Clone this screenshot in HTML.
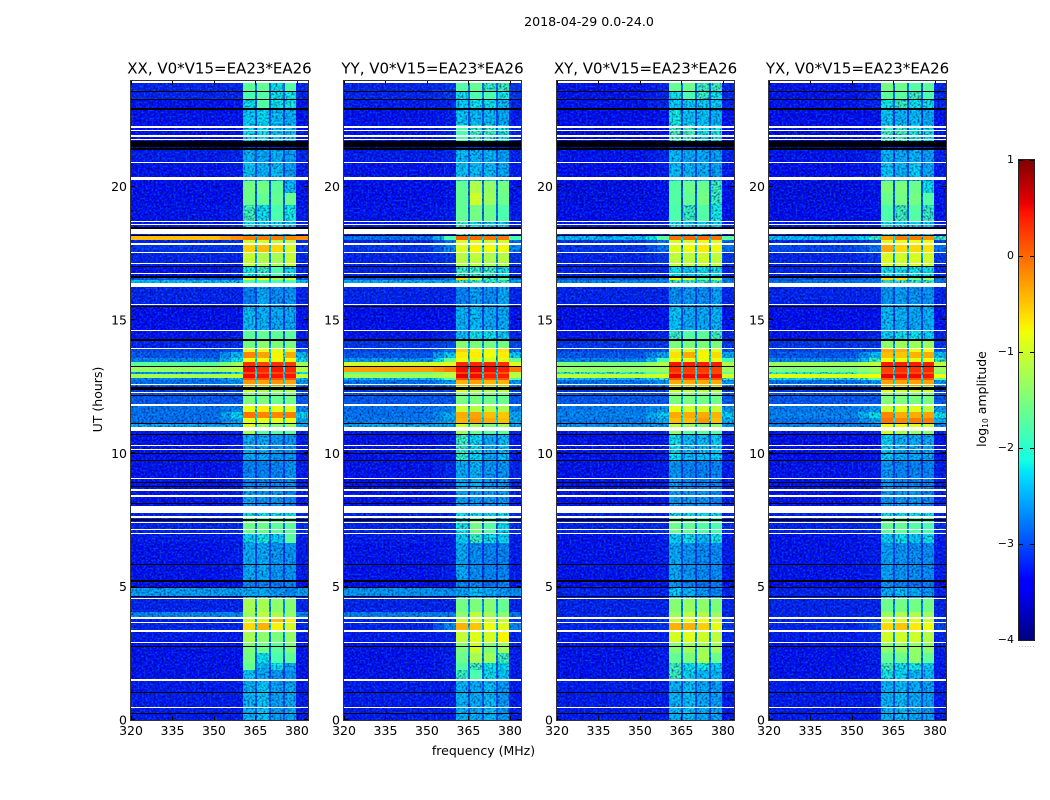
<!DOCTYPE html>
<html>
<head>
<meta charset="utf-8">
<title>2018-04-29 0.0-24.0</title>
<style>
html,body{margin:0;padding:0;background:#fff;}
svg{display:block;}
text{font-family:"DejaVu Sans","Liberation Sans",sans-serif;fill:#000;}
</style>
</head>
<body>
<svg id="figure" xmlns="http://www.w3.org/2000/svg" width="1050" height="800" viewBox="0 0 1050 800">
  <defs id="svg-defs">
    <filter id="grain-dark" x="0" y="0" width="1" height="1" color-interpolation-filters="sRGB">
      <feTurbulence type="fractalNoise" baseFrequency="0.5" numOctaves="1" seed="4"/>
      <feColorMatrix type="matrix" values="0 0 0 0 0  0 0 0 0 0  0 0 0 0 0.3  3.2 0 0 0 -1.35"/>
    </filter>
    <filter id="grain-light" x="0" y="0" width="1" height="1" color-interpolation-filters="sRGB">
      <feTurbulence type="fractalNoise" baseFrequency="0.5" numOctaves="1" seed="11"/>
      <feColorMatrix type="matrix" values="0 0 0 0 0  0 0 0 0 0.8  0 0 0 0 1  3.2 0 0 0 -1.35"/>
    </filter>
    <linearGradient id="colorbar-gradient" x1="0" y1="1" x2="0" y2="0"></linearGradient>
  </defs>
  <rect x="0" y="0" width="1050" height="800" fill="#fff"/>
  <text x="589" y="26" font-size="12.6" text-anchor="middle">2018-04-29 0.0-24.0</text>
  <text x="483.5" y="755" font-size="12.5" text-anchor="middle">frequency (MHz)</text>
  <text transform="translate(102,399.5) rotate(-90)" font-size="12.5" text-anchor="middle">UT (hours)</text>
  <text transform="translate(986,399) rotate(-90)" font-size="12.5" text-anchor="middle">log<tspan font-size="7.5" dy="2">10</tspan><tspan dy="-2"> amplitude</tspan></text>
  <g id="panels"></g>
  <g id="colorbar"></g>
</svg>
<script>
// ---- data (log10 amplitude) ----
const xTicks = [320, 335, 350, 365, 380];
const yTicks = [0, 5, 10, 15, 20];
const colorbarTicks = [1, 0, -1, -2, -3, -4];
const polarizations = ['XX', 'YY', 'XY', 'YX'];
const baselineLabel = 'V0*V15=EA23*EA26';
const spwStart = [360.5, 365.7, 370.5, 375.6];
const spwEnd = [365, 369.8, 375, 379.8];
const bandEdges = [24, 23.55, 23.25, 22.87, 22.31, 21.71, 21.37, 20.92, 20.36, 20.21, 19.76, 19.31, 18.71, 18.15, 18.00, 17.85, 17.55, 17.02, 16.65, 16.50, 16.27, 15.52, 14.62, 14.25, 13.95, 13.80, 13.57, 13.42, 13.27, 13.05, 12.99, 12.84, 12.75, 12.52, 12.30, 11.81, 11.55, 11.32, 11.14, 10.87, 10.72, 9.75, 8.62, 8.02, 7.61, 7.01, 6.64, 5.21, 4.95, 4.65, 4.57, 4.05, 3.86, 3.67, 3.37, 2.89, 2.51, 2.14, 1.87, 1.50, 0];
const whiteFlags = [[23.95,23.87],[22.27,22.20],[22.14,22.10],[21.92,21.87],[21.80,21.75],[20.93,20.88],[20.36,20.25],[18.72,18.67],[18.61,18.56],[18.42,18.22],[17.88,17.82],[17.56,17.51],[17.14,17.09],[16.77,16.72],[16.39,16.25],[15.61,15.56],[14.63,14.58],[13.96,13.91],[12.61,12.55],[12.50,12.47],[12.31,12.26],[11.83,11.77],[10.99,10.85],[10.32,10.27],[10.17,10.12],[9.08,9.04],[8.66,8.57],[8.44,8.38],[8.02,7.77],[7.65,7.59],[7.42,7.39],[7.16,7.11],[7.01,6.96],[4.59,4.55],[3.88,3.80],[3.68,3.64],[3.37,3.30],[2.93,2.89],[1.54,1.46],[0.50,0.45]];
const blackFlags = [[23.57,23.53],[23.29,23.25],[22.96,22.88],[21.71,21.48],[21.44,21.37],[18.49,18.42],[18.19,18.15],[17.02,16.99],[16.64,16.59],[15.52,15.49],[14.29,14.21],[13.27,13.23],[12.47,12.39],[12.17,12.13],[11.14,11.11],[10.73,10.69],[10.02,9.97],[9.76,9.71],[8.92,8.89],[8.76,8.72],[8.14,8.10],[7.52,7.48],[5.86,5.81],[5.24,5.19],[4.99,4.95],[4.66,4.61],[2.78,2.74],[1.06,1.01],[0.27,0.23]];
// each row: [background, shoulder, spw1, spw2, spw3, spw4]
const levelsXX = [
[-3.0,-3.0,-1.7,-1.65,-2.0,-1.75],[-3.0,-3.0,-1.8,-1.75,-2.0,-1.95],[-3.1,-3.1,-2.0,-1.75,-2.0,-1.95],[-3.1,-3.1,-2.1,-2.05,-2.2,-2.25],[-3.2,-3.1,-2.05,-2.0,-2.15,-2.15],
[-3.8,-3.8,-2.9,-2.9,-3.0,-3.0],[-3.05,-3.0,-2.25,-2.3,-2.25,-2.35],[-3.1,-3.05,-2.15,-2.25,-2.2,-2.35],[-3.2,-3.1,-2.1,-2.2,-2.2,-2.3],[-3.2,-3.1,-1.55,-1.55,-1.7,-2.2],
[-3.2,-3.1,-1.6,-1.65,-1.65,-1.6],[-3.1,-3.05,-1.85,-2.0,-1.8,-1.95],[-3.05,-3.0,-2.0,-2.1,-2.05,-2.1],[-0.45,-0.2,-0.1,-0.1,-0.1,-0.15],[-3.0,-2.9,-1.0,-1.0,-1.1,-1.1],
[-2.9,-2.9,-0.55,-0.45,-0.6,-0.95],[-3.0,-3.0,-1.05,-1.2,-1.25,-1.05],[-3.1,-3.0,-1.95,-1.9,-1.8,-2.0],[-2.7,-2.7,-0.9,-0.8,-1.2,-1.0],[-2.2,-2.2,-1.8,-1.8,-1.8,-1.8],
[-3.0,-3.0,-2.55,-2.3,-2.45,-2.4],[-3.15,-3.1,-2.2,-2.25,-2.3,-2.3],[-3.1,-3.05,-1.7,-1.65,-1.7,-1.7],[-3.0,-2.95,-1.55,-1.4,-1.5,-1.5],[-2.8,-2.7,-0.85,-0.8,-0.85,-0.85],
[-2.7,-2.2,-0.15,-0.3,-0.75,-0.35],[-2.5,-2.0,-0.8,-0.8,-0.8,-0.8],[-1.7,-1.3,0.3,0.2,0.3,0.25],[-1.35,-1.15,0.5,0.35,0.45,0.35],[-2.4,-2.0,0.15,0.15,0.15,0.15],
[-1.25,-1.05,0.5,0.45,0.45,0.45],[-2.5,-2.2,0.1,0.1,0.1,0.1],[-2.6,-2.4,-0.25,-0.3,-0.25,-0.3],[-2.9,-2.8,-1.0,-1.2,-1.2,-1.2],[-2.7,-2.7,-1.5,-1.5,-1.6,-1.55],
[-2.6,-2.5,-0.85,-0.7,-0.85,-0.9],[-2.6,-2.05,-0.05,-0.15,-0.15,-0.1],[-2.6,-2.3,-0.85,-0.85,-0.85,-0.85],[-2.3,-2.3,-0.9,-1.3,-1.45,-1.3],[-3.05,-3.0,-1.25,-1.7,-1.7,-1.7],
[-3.1,-3.05,-2.3,-2.3,-2.4,-2.4],[-3.1,-3.05,-2.5,-2.5,-2.5,-2.4],[-3.1,-3.05,-2.35,-2.4,-2.4,-2.5],[-3.0,-3.0,-2.0,-2.0,-2.0,-2.0],[-3.0,-2.95,-1.6,-1.6,-1.7,-1.7],
[-3.05,-3.05,-2.05,-1.95,-2.1,-1.7],[-3.1,-3.05,-2.3,-2.3,-2.4,-2.4],[-3.2,-3.15,-2.5,-2.5,-2.6,-2.5],[-2.35,-2.35,-2.3,-2.3,-2.4,-2.5],[-3.0,-3.0,-2.1,-2.1,-2.2,-2.2],
[-3.0,-3.0,-1.25,-1.25,-1.4,-1.45],[-2.5,-2.5,-1.3,-1.1,-1.2,-1.35],[-3.05,-3.0,-1.0,-0.9,-0.45,-0.75],[-3.0,-3.0,-0.6,-0.4,-0.75,-0.95],[-3.05,-3.05,-1.25,-1.4,-1.5,-1.35],
[-3.1,-3.1,-1.5,-1.6,-1.7,-1.5],[-3.1,-3.1,-1.55,-2.0,-1.8,-1.7],[-3.1,-3.1,-1.65,-2.2,-2.0,-2.3],[-3.1,-3.1,-2.15,-2.3,-2.4,-2.4],[-3.05,-3.05,-2.25,-2.15,-2.35,-2.3]
];
const levelsYY = [
[-3.0,-2.9,-1.75,-1.65,-1.9,-1.85],[-3.0,-2.9,-2.0,-1.8,-1.8,-1.95],[-3.05,-3.0,-2.1,-2.0,-2.0,-2.2],[-3.1,-3.05,-2.15,-2.2,-2.2,-2.3],[-3.1,-3.0,-1.8,-1.9,-1.9,-1.95],
[-3.8,-3.8,-2.9,-2.9,-3.0,-3.0],[-3.05,-3.0,-2.2,-2.25,-2.25,-2.35],[-3.1,-3.05,-2.15,-2.2,-2.2,-2.3],[-3.2,-3.1,-2.0,-2.1,-2.1,-2.2],[-3.2,-3.1,-1.65,-1.2,-1.35,-1.55],
[-3.2,-3.1,-1.65,-1.0,-1.3,-1.6],[-3.1,-3.05,-1.65,-1.55,-1.6,-1.8],[-3.05,-3.0,-1.9,-2.0,-2.05,-2.1],[-2.6,-1.8,0.05,0.0,-0.05,-0.05],[-3.0,-2.6,-0.9,-0.9,-1.0,-0.95],
[-2.9,-2.5,-0.9,-0.75,-0.8,-0.8],[-3.0,-2.9,-1.15,-1.1,-1.2,-1.15],[-3.0,-3.0,-1.9,-1.9,-1.9,-1.95],[-2.7,-2.6,-0.55,-1.1,-1.9,-1.7],[-2.3,-2.3,-1.9,-1.9,-1.9,-1.9],
[-3.0,-3.0,-2.5,-2.35,-2.45,-2.3],[-3.15,-3.1,-2.25,-2.2,-2.3,-2.3],[-3.1,-3.0,-2.2,-2.0,-2.0,-2.1],[-2.9,-2.8,-1.45,-1.5,-1.55,-1.55],[-2.8,-2.6,-0.55,-0.75,-0.8,-0.65],
[-2.7,-2.1,-0.7,-0.7,-0.8,-0.7],[-2.4,-1.6,-0.8,-0.9,-1.0,-0.9],[-1.0,-0.9,0.35,0.35,0.35,0.3],[-0.3,-0.1,0.5,0.55,0.5,0.4],[-1.6,-1.2,0.2,0.15,0.15,0.1],
[-1.3,-1.1,0.55,0.5,0.4,0.4],[-2.2,-1.8,0.15,0.15,0.1,0.1],[-2.6,-2.4,-0.4,-0.3,-0.4,-0.4],[-2.9,-2.8,-0.95,-1.1,-1.1,-1.1],[-2.7,-2.7,-1.5,-1.5,-1.55,-1.6],
[-2.6,-2.5,-1.0,-1.15,-1.15,-1.2],[-2.6,-2.3,-0.35,-0.3,-0.45,-0.5],[-2.55,-2.3,-0.4,-0.25,-0.35,-0.45],[-2.3,-2.3,-1.0,-1.3,-1.5,-1.3],[-3.05,-3.0,-1.3,-1.6,-1.7,-1.7],
[-3.1,-3.05,-1.9,-2.05,-2.3,-2.2],[-3.1,-3.0,-2.3,-2.25,-2.4,-2.4],[-3.1,-3.05,-2.35,-2.4,-2.4,-2.4],[-3.0,-3.0,-2.0,-2.0,-2.0,-2.0],[-3.0,-2.95,-1.95,-1.55,-1.75,-2.05],
[-3.05,-3.05,-2.1,-1.9,-2.0,-2.05],[-3.1,-3.05,-2.3,-2.45,-2.5,-2.5],[-3.2,-3.15,-2.5,-2.5,-2.6,-2.5],[-2.4,-2.45,-2.35,-2.2,-2.3,-2.4],[-3.0,-3.0,-2.0,-2.1,-2.2,-2.2],
[-3.0,-3.0,-1.55,-1.5,-1.45,-1.65],[-2.55,-2.55,-1.4,-1.1,-1.25,-1.4],[-3.0,-2.9,-1.0,-0.9,-0.95,-1.05],[-3.0,-2.5,-0.4,-0.5,-0.8,-0.9],[-3.05,-3.0,-1.05,-0.9,-0.95,-0.75],
[-3.1,-3.05,-1.5,-1.0,-1.45,-1.3],[-3.1,-3.05,-1.6,-1.25,-1.3,-1.85],[-3.1,-3.05,-1.75,-1.85,-2.0,-2.05],[-3.1,-3.05,-1.9,-1.8,-2.0,-2.15],[-3.05,-3.05,-2.25,-2.3,-2.2,-2.4]
];
const levelsXY = [
[-3.1,-3.0,-1.65,-1.6,-1.85,-1.85],[-3.1,-3.0,-2.0,-1.8,-1.9,-2.0],[-3.1,-3.0,-2.1,-2.1,-2.1,-2.1],[-3.2,-3.1,-1.95,-2.15,-2.15,-2.25],[-3.3,-3.2,-1.85,-1.85,-2.0,-1.95],
[-3.8,-3.8,-2.9,-2.9,-3.0,-3.0],[-3.1,-3.0,-2.2,-2.3,-2.3,-2.35],[-3.15,-3.05,-2.2,-2.25,-2.25,-2.35],[-3.2,-3.1,-2.1,-2.2,-2.2,-2.3],[-3.25,-3.1,-1.75,-1.6,-1.6,-1.85],
[-3.25,-3.1,-1.75,-1.65,-1.55,-1.9],[-3.2,-3.1,-1.8,-1.9,-1.75,-1.95],[-3.05,-3.0,-2.0,-2.1,-2.05,-2.1],[-2.2,-1.7,-0.05,0.0,0.0,-0.05],[-2.9,-2.6,-0.95,-0.95,-0.8,-0.9],
[-2.9,-2.6,-0.9,-0.8,-0.7,-0.8],[-3.0,-2.9,-1.1,-1.1,-1.0,-1.1],[-3.0,-3.0,-2.0,-2.1,-2.0,-2.0],[-2.7,-2.6,-0.8,-1.0,-1.7,-1.3],[-2.5,-2.5,-1.9,-1.9,-1.9,-1.9],
[-3.0,-3.0,-2.45,-2.4,-2.45,-2.35],[-3.15,-3.1,-2.15,-2.3,-2.3,-2.25],[-3.1,-3.0,-1.9,-1.75,-1.7,-1.85],[-2.9,-2.9,-1.5,-1.5,-1.5,-1.5],[-2.8,-2.7,-0.9,-0.9,-0.9,-0.9],
[-2.7,-2.3,-0.65,-0.35,-0.75,-0.6],[-2.5,-1.8,-0.8,-0.9,-0.85,-0.85],[-1.5,-1.2,0.45,0.4,0.4,0.4],[-1.4,-1.3,0.3,0.25,0.25,0.2],[-1.9,-1.6,0.15,0.15,0.15,0.15],
[-1.1,-0.95,0.55,0.5,0.5,0.5],[-2.2,-1.9,0.1,0.1,0.1,0.1],[-2.6,-2.4,-0.35,-0.35,-0.35,-0.35],[-2.9,-2.8,-1.0,-1.1,-1.1,-1.1],[-2.7,-2.7,-1.5,-1.5,-1.55,-1.55],
[-2.55,-2.4,-0.85,-1.0,-1.0,-1.05],[-2.5,-2.1,-0.35,-0.35,-0.35,-0.4],[-2.55,-2.3,-0.45,-0.45,-0.25,-0.45],[-2.4,-2.4,-1.1,-1.3,-1.5,-1.4],[-3.05,-3.0,-1.4,-1.7,-1.7,-1.7],
[-3.1,-3.05,-2.0,-2.2,-2.2,-2.1],[-3.1,-3.05,-2.4,-2.5,-2.5,-2.5],[-3.1,-3.05,-2.35,-2.4,-2.4,-2.5],[-3.0,-3.0,-2.0,-2.0,-2.0,-2.0],[-3.0,-2.95,-1.6,-1.65,-1.75,-1.8],
[-3.1,-3.05,-2.1,-2.0,-2.2,-1.95],[-3.1,-3.05,-2.3,-2.4,-2.45,-2.45],[-3.2,-3.15,-2.4,-2.5,-2.6,-2.55],[-3.0,-3.0,-2.1,-2.25,-2.4,-2.5],[-3.0,-3.0,-2.0,-2.1,-2.2,-2.2],
[-3.0,-3.0,-1.45,-1.35,-1.4,-1.5],[-3.0,-3.0,-1.3,-1.1,-1.15,-1.3],[-3.0,-2.9,-1.0,-0.85,-0.8,-0.95],[-3.0,-2.9,-0.4,-0.4,-0.55,-0.85],[-3.05,-3.0,-0.95,-0.9,-1.0,-1.1],
[-3.1,-3.05,-1.45,-1.3,-1.3,-1.3],[-3.1,-3.05,-1.65,-1.5,-1.25,-1.6],[-3.1,-3.05,-1.85,-2.0,-1.95,-2.1],[-3.1,-3.05,-1.85,-2.05,-2.2,-2.2],[-3.05,-3.05,-2.25,-2.2,-2.3,-2.35]
];
const levelsYX = [
[-3.1,-3.0,-1.55,-1.6,-1.75,-1.7],[-3.1,-3.0,-1.7,-1.7,-1.85,-1.8],[-3.1,-3.0,-1.95,-1.9,-2.0,-2.0],[-3.2,-3.1,-2.15,-2.25,-2.2,-2.3],[-3.3,-3.2,-1.9,-1.9,-1.95,-2.0],
[-3.8,-3.8,-2.9,-2.9,-3.0,-3.0],[-3.1,-3.0,-2.25,-2.3,-2.25,-2.35],[-3.15,-3.05,-2.15,-2.25,-2.1,-2.3],[-3.2,-3.1,-2.1,-2.2,-2.2,-2.3],[-3.25,-3.1,-1.5,-1.5,-1.6,-2.0],
[-3.25,-3.1,-1.6,-1.55,-1.55,-1.75],[-3.2,-3.1,-1.8,-1.85,-1.75,-1.9],[-3.05,-3.0,-2.0,-2.1,-2.05,-2.1],[-2.2,-1.9,-0.3,-0.1,-0.1,-0.2],[-3.0,-2.8,-0.9,-0.8,-0.8,-0.8],
[-2.8,-2.6,-0.35,-0.6,-0.6,-0.65],[-3.0,-2.9,-0.95,-1.0,-0.95,-1.0],[-3.0,-3.0,-2.0,-2.0,-2.0,-2.0],[-2.7,-2.6,-0.6,-0.6,-1.6,-1.3],[-2.6,-2.6,-1.9,-1.9,-1.9,-1.9],
[-3.0,-3.0,-2.4,-2.35,-2.4,-2.4],[-3.15,-3.1,-2.2,-2.25,-2.3,-2.25],[-3.1,-3.0,-2.1,-2.0,-2.0,-2.1],[-2.9,-2.9,-1.4,-1.3,-1.3,-1.3],[-2.8,-2.7,-0.35,-0.4,-0.85,-0.8],
[-2.7,-2.2,-0.45,-0.5,-0.4,-0.35],[-2.5,-1.9,-0.8,-0.85,-0.85,-0.8],[-1.3,-1.1,0.4,0.4,0.4,0.4],[-1.5,-1.3,0.2,0.3,0.3,0.35],[-1.9,-1.5,0.15,0.15,0.15,0.1],
[-0.9,-0.8,0.55,0.5,0.5,0.45],[-2.0,-1.7,0.1,0.1,0.1,0.1],[-2.6,-2.4,-0.3,-0.3,-0.3,-0.3],[-2.9,-2.8,-0.85,-1.0,-1.0,-1.0],[-2.7,-2.7,-1.45,-1.45,-1.5,-1.5],
[-2.55,-2.4,-1.0,-0.9,-0.9,-1.1],[-2.5,-2.0,-0.15,-0.35,-0.35,-0.3],[-2.6,-2.3,-0.05,-0.15,-0.1,-0.1],[-2.5,-2.5,-0.8,-0.8,-0.9,-1.0],[-3.05,-3.0,-1.0,-1.2,-1.3,-1.4],
[-3.15,-3.1,-2.1,-2.25,-2.3,-2.3],[-3.1,-3.05,-2.4,-2.5,-2.5,-2.5],[-3.1,-3.05,-2.4,-2.4,-2.4,-2.5],[-3.0,-3.0,-2.0,-2.0,-2.0,-2.0],[-3.0,-2.95,-1.65,-1.65,-1.75,-1.8],
[-3.1,-3.05,-2.1,-2.0,-2.15,-2.0],[-3.1,-3.05,-2.35,-2.4,-2.45,-2.45],[-3.2,-3.15,-2.4,-2.5,-2.6,-2.55],[-3.0,-3.0,-2.3,-2.2,-2.3,-2.4],[-3.0,-3.0,-2.0,-2.1,-2.2,-2.2],
[-3.0,-3.0,-1.6,-1.55,-1.55,-1.55],[-3.0,-3.0,-1.3,-1.2,-1.2,-1.3],[-3.0,-2.9,-1.0,-0.9,-0.9,-1.0],[-3.0,-2.8,-0.6,-0.5,-0.7,-0.8],[-3.05,-3.0,-1.0,-1.0,-1.0,-1.15],
[-3.1,-3.05,-1.4,-1.35,-1.35,-1.4],[-3.1,-3.05,-1.65,-1.6,-1.4,-1.65],[-3.1,-3.05,-1.85,-2.0,-1.95,-2.1],[-3.1,-3.05,-1.95,-2.05,-2.2,-2.2],[-3.05,-3.05,-2.25,-2.2,-2.3,-2.35]
];
const levelTables = [levelsXX, levelsYY, levelsXY, levelsYX];

// ---- layout ----
const axesLefts = [131, 344, 557, 769];
const axesWidth = 177;
const axesTop = 81;
const axesBottom = 720;
const svgNS = 'http://www.w3.org/2000/svg';
const freqMin = 320, freqMax = 384, hourScale = 26.67;
const cbLeft = 1019, cbWidth = 15, cbTop = 160, cbBottom = 640;

function xScale(mhz, left) { return left + (mhz - freqMin) / (freqMax - freqMin) * axesWidth; }
function yScale(hour) { return Math.max(axesTop, axesBottom - hour * hourScale); }
function cbScale(v) { return cbBottom - (v + 4) / 5 * (cbBottom - cbTop); }
function lerpStops(stops, t) {
  for (let i = 1; i < stops.length; i++) {
    if (t <= stops[i][0]) {
      const a = stops[i - 1], b = stops[i];
      return a[1] + (b[1] - a[1]) * (t - a[0]) / (b[0] - a[0]);
    }
  }
  return stops[stops.length - 1][1];
}
const jetR = [[0,0],[0.35,0],[0.66,1],[0.89,1],[1,0.5]];
const jetG = [[0,0],[0.125,0],[0.375,1],[0.64,1],[0.91,0],[1,0]];
const jetB = [[0,0.5],[0.11,1],[0.34,1],[0.65,0],[1,0]];
function jet(v) {
  const t = Math.min(1, Math.max(0, (v + 4) / 5));
  return 'rgb(' + Math.round(255 * lerpStops(jetR, t)) + ',' + Math.round(255 * lerpStops(jetG, t)) + ',' + Math.round(255 * lerpStops(jetB, t)) + ')';
}
// speckled cells look brighter than their mean level: pull faint levels down for display
function displayLevel(v) {
  if (v < -2.6) return v - 0.25;
  if (v < -1.9) return v - 0.2;
  return v;
}
function make(parent, tag, attrs, text) {
  const el = document.createElementNS(svgNS, tag);
  for (const k in attrs) el.setAttribute(k, attrs[k]);
  if (text !== undefined) el.textContent = text;
  parent.appendChild(el);
  return el;
}
function gapLevel(bg, a, b) { return Math.min(-2.0, bg + 0.35 * ((a + b) / 2 - bg)); }
function bandColumns(row) {
  const bg = row[0], sh = row[1], s = row.slice(2);
  const cols = [[freqMin, 352, bg], [352, 356, (bg + sh) / 2], [356, spwStart[0], sh]];
  for (let i = 0; i < s.length; i++) {
    cols.push([spwStart[i], spwEnd[i], s[i]]);
    if (i < s.length - 1) cols.push([spwEnd[i], spwStart[i + 1], gapLevel(bg, s[i], s[i + 1])]);
  }
  cols.push([spwEnd[s.length - 1], freqMax, sh]);
  return cols;
}
function drawFlags(group, flags, color, left, name) {
  flags.forEach(function (f) {
    const y0 = Math.round(yScale(f[0]));
    const y1 = Math.max(y0 + 1, Math.round(yScale(f[1])));
    const r = make(group, 'rect', { x: left, y: y0, width: axesWidth, height: y1 - y0, fill: color, 'shape-rendering': 'crispEdges' });
    
    
  });
}

const panelsRoot = document.getElementById('panels');
const defsRoot = document.getElementById('svg-defs');
polarizations.forEach(function (pol, p) {
  const left = axesLefts[p];
  const right = left + axesWidth;
  const levels = levelTables[p];
  const g = make(panelsRoot, 'g', {});
  
  
  const clip = make(defsRoot, 'clipPath', { id: 'faint-cells-' + p });

  levels.forEach(function (row, b) {
    const y0 = Math.round(yScale(bandEdges[b]));
    const y1 = Math.round(yScale(bandEdges[b + 1]));
    bandColumns(row).forEach(function (c) {
      const x0 = Math.round(xScale(c[0], left));
      const x1 = Math.round(xScale(c[1], left));
      const w = Math.max(0, x1 - x0), h = Math.max(0, y1 - y0);
      const cell = make(g, 'rect', { x: x0, y: y0, width: w, height: h, fill: jet(displayLevel(c[2])), 'shape-rendering': 'crispEdges' });
      
      
      if (c[2] < -1.8) make(clip, 'rect', { x: x0, y: y0, width: w, height: h });
    });
  });

  const grainGroup = make(g, 'g', { 'clip-path': 'url(#faint-cells-' + p + ')' });
  
  
  const grainA = make(grainGroup, 'rect', { x: left, y: axesTop, width: axesWidth, height: axesBottom - axesTop, filter: 'url(#grain-dark)', opacity: 0.6 });
  
  
  const grainB = make(grainGroup, 'rect', { x: left, y: axesTop, width: axesWidth, height: axesBottom - axesTop, filter: 'url(#grain-light)', opacity: 0.3 });
  
  

  drawFlags(g, whiteFlags, '#fff', left, 'flagged-row-white');
  drawFlags(g, blackFlags, '#000', left, 'flagged-row-black');

  xTicks.forEach(function (t) {
    const x = Math.round(xScale(t, left)) + 0.5;
    const tb = make(g, 'path', { d: 'M' + x + ' ' + axesBottom + 'v-4M' + x + ' ' + axesTop + 'v4', stroke: '#000', 'stroke-width': 1, fill: 'none' });
    
    
    const lb = make(g, 'text', { x: xScale(t, left), y: 735, 'font-size': 12.5, 'text-anchor': 'middle' }, String(t));
    
    
  });
  yTicks.forEach(function (t) {
    const y = Math.round(yScale(t)) - 0.5;
    const tk = make(g, 'path', { d: 'M' + left + ' ' + y + 'h4M' + right + ' ' + y + 'h-4', stroke: '#000', 'stroke-width': 1, fill: 'none' });
    
    
    const lb = make(g, 'text', { x: left - 4, y: yScale(t) + 4.5, 'font-size': 12.5, 'text-anchor': 'end' }, String(t));
    
    
  });

  const frame = make(g, 'rect', { x: left - 0.5, y: axesTop - 0.5, width: axesWidth + 1, height: axesBottom - axesTop + 1, fill: 'none', stroke: '#333', 'stroke-width': 1 });
  
  

  const title = make(g, 'text', { x: left + axesWidth / 2, y: 73.5, 'font-size': 15, 'text-anchor': 'middle' }, pol + ', ' + baselineLabel);
  
  
});

// ---- colorbar ----
const cbRoot = document.getElementById('colorbar');
const grad = document.getElementById('colorbar-gradient');
const gradStops = [0, 0.11, 0.125, 0.34, 0.35, 0.375, 0.64, 0.65, 0.66, 0.89, 0.91, 1];
gradStops.forEach(function (t) {
  make(grad, 'stop', { offset: t, 'stop-color': jet(t * 5 - 4) });
});
const cbBar = make(cbRoot, 'rect', { x: cbLeft, y: cbTop, width: cbWidth, height: cbBottom - cbTop, fill: 'url(#colorbar-gradient)' });


colorbarTicks.forEach(function (t) {
  const y = Math.round(cbScale(t)) + 0.5;
  const tk = make(cbRoot, 'path', { d: 'M' + cbLeft + ' ' + y + 'h4M' + (cbLeft + cbWidth) + ' ' + y + 'h-4', stroke: '#000', 'stroke-width': 1, fill: 'none' });
  
  
  const label = (t < 0 ? '\u2212' + (-t) : String(t));
  const lb = make(cbRoot, 'text', { x: cbLeft - 5, y: cbScale(t) + 3, 'font-size': 11, 'text-anchor': 'end' }, label);
  
  
});
const cbFrame = make(cbRoot, 'rect', { x: cbLeft - 0.5, y: cbTop - 0.5, width: cbWidth + 1, height: cbBottom - cbTop + 1, fill: 'none', stroke: '#222', 'stroke-width': 1 });


const cbDots = make(cbRoot, 'text', { x: cbLeft + cbWidth / 2 + 0.5, y: 647, 'font-size': 6, 'letter-spacing': 1, 'text-anchor': 'middle', style: 'fill:#666' }, '......');


</script>
</body>
</html>
